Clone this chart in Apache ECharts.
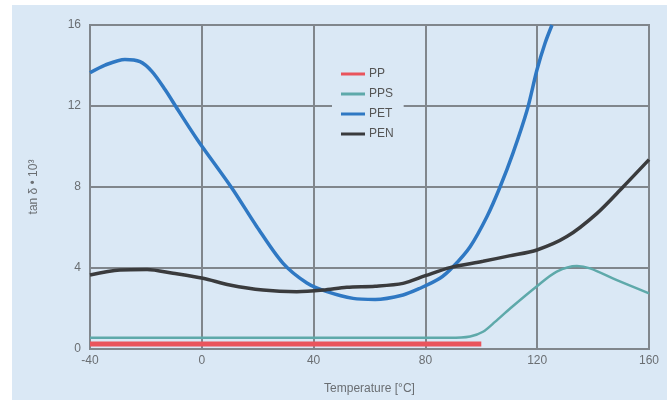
<!DOCTYPE html>
<html>
<head>
<meta charset="utf-8">
<script src="https://cdn.jsdelivr.net/npm/echarts@6/dist/echarts.min.js"></script>
<style>
    html, body { margin: 0; padding: 0; background: #fff; }
    #chart { width: 669px; height: 409px; }
</style>
</head>
<body>
<div id="chart"></div>
<script>
// 数据
var xTicks = [-40, 0, 40, 80, 120, 160];
var yTicks = [0, 4, 8, 12, 16];

var ppData = [[-40, 0.25], [100, 0.25]];

var ppsData = [
    [-40, 0.55], [88.8, 0.55], [96, 0.62], [100.6, 0.85], [105, 1.35],
    [110.3, 2.0], [119.9, 3.1], [127, 3.82], [134.2, 4.1],
    [138.9, 3.98], [148.5, 3.4], [160, 2.75]
];

var petData = [
    [-40, 13.64], [-34.6, 14.02], [-27.5, 14.3], [-22.1, 14.19], [-17.8, 13.7],
    [-13.1, 12.8], [-8.5, 11.8], [-1.4, 10.3], [10.8, 7.94], [19.7, 6.04],
    [29, 4.24], [37.6, 3.26], [44.8, 2.83], [54.1, 2.5], [62, 2.45],
    [72, 2.67], [78.1, 3.0], [85.2, 3.49], [89.9, 4.06], [96, 5.05],
    [102, 6.53], [106.7, 8.0], [111.3, 9.66], [116.4, 11.8], [119.9, 13.78],
    [122.8, 15.1], [125.3, 16.0]
];

var penData = [
    [-40, 3.65], [-29.3, 3.9], [-19.6, 3.93], [-10.3, 3.74], [0.4, 3.49],
    [10, 3.16], [21.9, 2.91], [34, 2.83], [43.4, 2.91], [51.9, 3.05],
    [62, 3.1], [72, 3.24], [80, 3.62], [88.8, 4.02], [100.6, 4.33],
    [110, 4.6], [119.9, 4.89], [130.6, 5.55], [141.4, 6.7], [150.7, 8.0],
    [160, 9.35]
];

var bgColor = "#dae8f5";
var gridColor = "#80868c";
var textColor = "#6a6e72";
var fontFamily = "'Liberation Sans Narrow', 'Liberation Sans', sans-serif";

var chart = echarts.init(document.getElementById("chart"));

// 曲线的公共样式
function curve(name, data, color, width) {
    return {
        name: name,
        type: "line",
        data: data,
        smooth: 0.3,
        showSymbol: false,
        lineStyle: { color: color, width: width },
        itemStyle: { color: color }
    };
}

chart.setOption({
    animation: false,
    textStyle: { fontFamily: fontFamily },
    // 浅蓝色背景框
    graphic: [
        {
            type: "rect",
            z: -100,
            shape: { x: 12, y: 5, width: 655, height: 395 },
            style: { fill: bgColor }
        }
    ],
    grid: {
        left: 90,
        right: 20,
        top: 25,
        bottom: 60,
        show: true,
        borderColor: gridColor,
        borderWidth: 2
    },
    legend: {
        orient: "vertical",
        left: 332,
        top: 63,
        padding: [5, 10, 5, 9],
        backgroundColor: bgColor,
        itemWidth: 24,
        itemHeight: 3,
        itemGap: 8,
        icon: "rect",
        textStyle: { color: "#555", fontSize: 12, fontFamily: fontFamily, padding: [0, 0, 0, -1] },
        data: ["PP", "PPS", "PET", "PEN"],
        z: 10
    },
    xAxis: {
        type: "value",
        min: -40,
        max: 160,
        interval: 40,
        name: "Temperature [°C]",
        nameLocation: "middle",
        nameGap: 34,
        nameTextStyle: { color: textColor, fontSize: 12, fontFamily: fontFamily },
        axisLine: { lineStyle: { color: gridColor, width: 2 } },
        axisTick: { show: false },
        axisLabel: { color: textColor, fontSize: 12, margin: 6 },
        splitLine: { lineStyle: { color: gridColor, width: 2 } }
    },
    yAxis: {
        type: "value",
        min: 0,
        max: 16,
        interval: 4,
        name: "tan δ • 10³",
        nameLocation: "middle",
        nameGap: 50,
        nameTextStyle: { color: textColor, fontSize: 12, fontFamily: fontFamily },
        axisLine: { show: true, lineStyle: { color: gridColor, width: 2 } },
        axisTick: { show: false },
        axisLabel: { color: textColor, fontSize: 12, margin: 9 },
        splitLine: { lineStyle: { color: gridColor, width: 2 } }
    },
    series: [
        {
            name: "PP",
            type: "line",
            data: ppData,
            showSymbol: false,
            lineStyle: { color: "#e9545c", width: 5 },
            itemStyle: { color: "#e9545c" }
        },
        curve("PPS", ppsData, "#5ea9aa", 2.5),
        curve("PET", petData, "#2f78c3", 3.5),
        curve("PEN", penData, "#3a3b3d", 3.5)
    ]
});
</script>
</body>
</html>
